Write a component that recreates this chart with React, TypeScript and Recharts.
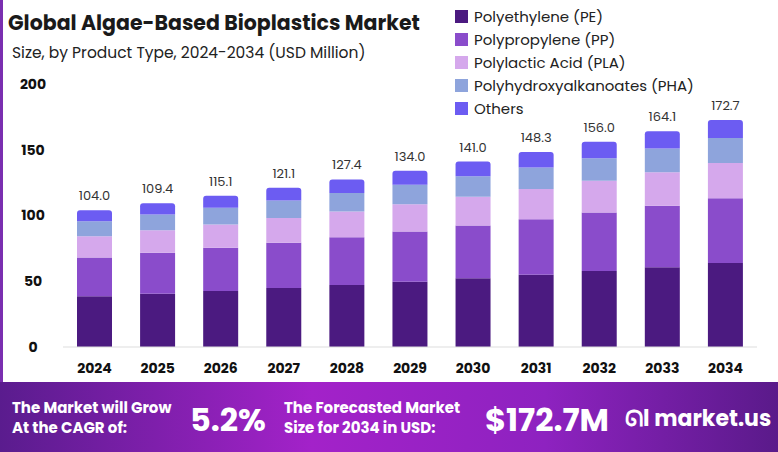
import { Bar, BarChart, LabelList, XAxis, YAxis } from "recharts"

const years = ["2024", "2025", "2026", "2027", "2028", "2029", "2030", "2031", "2032", "2033", "2034"]
const totals = [104.0, 109.4, 115.1, 121.1, 127.4, 134.0, 141.0, 148.3, 156.0, 164.1, 172.7]
const pe = [38.5, 40.5, 42.6, 44.8, 47.1, 49.6, 52.2, 54.9, 57.7, 60.7, 63.9]
const pp = [29.6, 31.2, 32.8, 34.5, 36.3, 38.2, 40.2, 42.3, 44.5, 46.8, 49.2]
const pla = [16.1, 17.0, 17.8, 18.8, 19.7, 20.8, 21.9, 23.0, 24.2, 25.4, 26.8]
const pha = [11.4, 12.0, 12.7, 13.3, 14.0, 14.7, 15.5, 16.3, 17.2, 18.1, 19.0]
const others = [8.4, 8.7, 9.2, 9.7, 10.3, 10.7, 11.2, 11.8, 12.4, 13.1, 13.8]
const yTicks = [0, 50, 100, 150, 200]

const series = [
    { key: "pe", name: "Polyethylene (PE)", color: "#4b1a80" },
    { key: "pp", name: "Polypropylene (PP)", color: "#8a4ccb" },
    { key: "pla", name: "Polylactic Acid (PLA)", color: "#d5a8ec" },
    { key: "pha", name: "Polyhydroxyalkanoates (PHA)", color: "#8ea4dc" },
    { key: "others", name: "Others", color: "#6c5cf2" },
]

const data = years.map((year, i) => ({
    year,
    total: totals[i].toFixed(1),
    pe: pe[i],
    pp: pp[i],
    pla: pla[i],
    pha: pha[i],
    others: others[i],
}))

const font = "Poppins, 'Open Sans', 'Noto Sans', sans-serif"

export default function App() {
    return (
        <div style={{ position: "fixed", left: 0, top: 0, width: 778, height: 452, background: "#fff", fontFamily: font, overflow: "hidden" }}>
            <div style={{ position: "absolute", left: 0, top: 0, width: 3, height: 382, background: "#7a2fb0" }} />
            <div style={{ position: "absolute", left: 8, top: 7, fontSize: 20.5, fontWeight: 700, color: "#1a1a1a" }}>
                Global Algae-Based Bioplastics Market
            </div>
            <div style={{ position: "absolute", left: 12, top: 41, fontSize: 15.5, color: "#222" }}>
                Size, by Product Type, 2024-2034 (USD Million)
            </div>
            <div style={{ position: "absolute", left: 455, top: 5 }}>
                {series.map(s => (
                    <div key={s.key} style={{ display: "flex", alignItems: "center", height: 23, fontSize: 15, color: "#222" }}>
                        <div style={{ width: 13, height: 13, background: s.color, marginRight: 6 }} />
                        {s.name}
                    </div>
                ))}
            </div>
            <div style={{ position: "absolute", left: 0, top: 0 }}>
                <BarChart width={778} height={382} data={data} margin={{ top: 84, right: 21, bottom: 0, left: 0 }}>
                    <XAxis dataKey="year" height={35} tickLine={false} axisLine={{ stroke: "#ddd" }}
                        tick={{ fontSize: 14, fontWeight: 700, fill: "#111" }} dy={8} />
                    <YAxis width={63} domain={[0, 200]} ticks={yTicks} tickLine={false} axisLine={false}
                        tick={{ fontSize: 14, fontWeight: 700, fill: "#111", textAnchor: "middle" }} dx={-22} />
                    {series.map((s, idx) => (
                        <Bar key={s.key} dataKey={s.key} stackId="a" fill={s.color} isAnimationActive={false} barSize={35}
                            radius={idx === series.length - 1 ? [3, 3, 0, 0] : 0}>
                            {idx === series.length - 1 && (
                                <LabelList dataKey="total" position="top" offset={10} style={{ fontSize: 13, fill: "#333" }} />
                            )}
                        </Bar>
                    ))}
                </BarChart>
            </div>
            <div style={{
                position: "absolute", left: 0, top: 382, width: 778, height: 70,
                background: "linear-gradient(90deg, #5a1c8e 0%, #a322c9 40%, #8e22c0 70%, #5a1a8a 100%)",
                color: "#fff", fontWeight: 700,
            }}>
                <div style={{ position: "absolute", left: 12, top: 16, fontSize: 15, lineHeight: "20px" }}>The Market will Grow<br />At the CAGR of:</div>
                <div style={{ position: "absolute", left: 190, top: 14, fontSize: 32 }}>5.2%</div>
                <div style={{ position: "absolute", left: 284, top: 16, fontSize: 15, lineHeight: "20px" }}>The Forecasted Market<br />Size for 2034 in USD:</div>
                <div style={{ position: "absolute", left: 485, top: 14, fontSize: 32 }}>$172.7M</div>
                <div style={{ position: "absolute", left: 625, top: 20, fontSize: 22, whiteSpace: "nowrap" }}>ᘏl market.us</div>
            </div>
        </div>
    )
}
